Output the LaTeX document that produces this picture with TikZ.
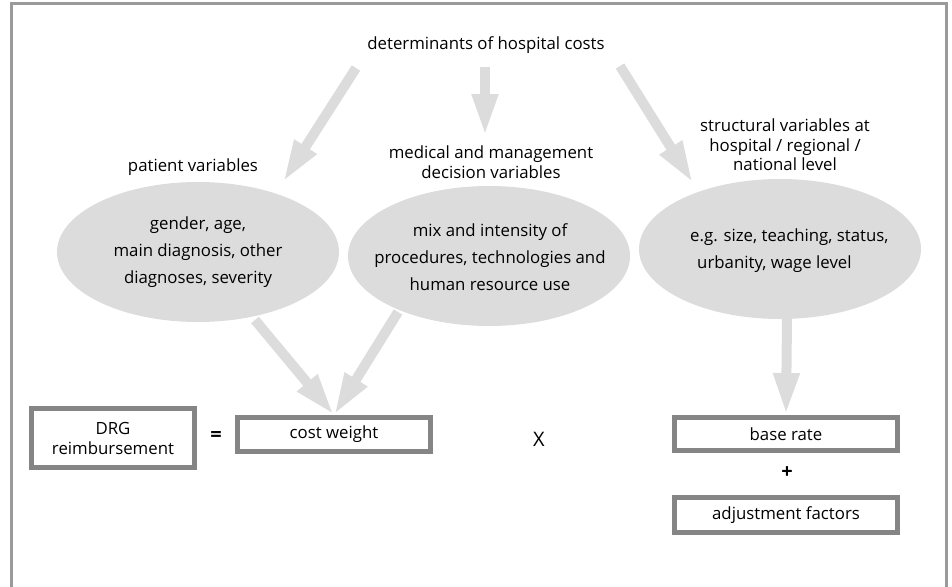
\documentclass[tikz,border=0pt]{standalone}
\usepackage{fontspec}
\setmainfont{Open Sans}
\usepackage{tikz}
\usetikzlibrary{shapes,arrows.meta}
\definecolor{blobgray}{HTML}{DCDCDC}
\definecolor{boxgray}{HTML}{858585}
\definecolor{framegray}{HTML}{9A9A9A}
\tikzset{
  every node/.style={font=\fontsize{16.8}{27}\selectfont},
  blob/.style={ellipse, fill=blobgray, minimum width=282pt, minimum height=140pt, inner sep=0pt},
  blobtext/.style={align=center, inner sep=0pt},
  lbl/.style={align=center, font=\fontsize{16.8}{19.5}\selectfont},
  box/.style={draw=boxgray, line width=5pt, inner sep=0pt, align=center, font=\fontsize{16.8}{20}\selectfont},
  sign/.style={font=\fontsize{20}{20}\selectfont},
  fatarrow/.style={draw=blobgray, line width=10pt, -{Triangle[width=24pt,length=42pt]}}
}

\begin{document}
\begin{tikzpicture}[x=1pt,y=-1pt]
\useasboundingbox (0,0) rectangle (952,586);
\draw[framegray, line width=3pt] (11,590) -- (11,4) -- (946,4) -- (946,590);

\node (title) at (486,45) {determinants of hospital costs};

% the three groups of variables
\node[blob] (pat) at (198,252) {};
\node[blob] (med) at (489,256) {};
\node[blob] (str) at (780,249) {};
\node[blobtext] (pattxt) at (pat) {gender, age,\\main diagnosis, other\\diagnoses, severity};
\node[blobtext] (medtxt) at (490,257) {mix and intensity of\\procedures, technologies and\\human resource use};
\node[blobtext, align=left, anchor=west] (strtxt) at (690,251) {e.g. size, teaching, status,\\\hspace{7pt}urbanity, wage level};

\node[lbl] (patlbl) at (193,167) {patient variables};
\node[lbl] (medlbl) at (491,162) {medical and management\\decision variables};
\node[lbl] (strlbl) at (785,145) {structural variables at\\hospital / regional /\\national level};

% formula
\node[box, minimum width=163pt, minimum height=59pt] (drg) at (113,438) {DRG\\reimbursement};
\node[sign] (eq) at (216,436) {\textbf{=}};
\node[box, minimum width=193pt, minimum height=34pt] (cw) at (334,434.5) {cost weight};
\node[sign] (times) at (539,439) {X};
\node[box, minimum width=223pt, minimum height=33pt] (base) at (786,434) {base rate};
\node[sign] (plus) at (787,473) {\textbf{+}};
\node[box, minimum width=223pt, minimum height=35pt] (adj) at (786,515) {adjustment factors};

% arrow ends
\coordinate (a1) at (356,68);
\coordinate (b1) at (283,182);
\coordinate (a2) at (485,67);
\coordinate (b2) at (485,136);
\coordinate (a3) at (620,66);
\coordinate (b3) at (693,183);
\coordinate (a4) at (255,320);
\coordinate (a5) at (398,312);
\coordinate (a6) at (787,318);

\draw[fatarrow] (a1) -- (b1);
\draw[fatarrow] (a2) -- (b2);
\draw[fatarrow] (a3) -- (b3);
\draw[fatarrow] (a4) -- (cw.north);
\draw[fatarrow] (a5) -- (cw.north);
\draw[fatarrow] (a6) -- (base.north);
\end{tikzpicture}
\end{document}
